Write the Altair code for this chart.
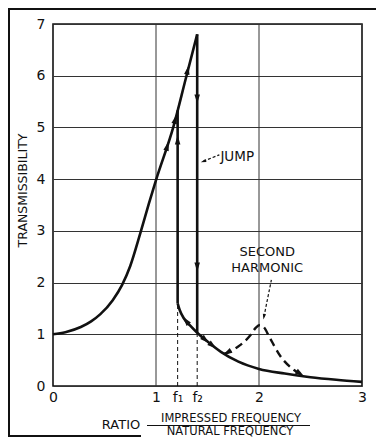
import altair as alt
import pandas as pd

# ---------------- data ----------------
F1 = 1.21   # lower jump frequency ratio
F2 = 1.40   # upper jump frequency ratio

# rising (upper) branch
up_x = [0.0, 0.12, 0.27, 0.37, 0.46, 0.58, 0.67, 0.75, 0.85, 0.93, 1.00, 1.17, 1.29, 1.40]
up_y = [1.00, 1.04, 1.14, 1.25, 1.39, 1.66, 1.95, 2.32, 2.97, 3.52, 3.98, 5.02, 5.95, 6.80]

# lower branch
low_x = [1.21, 1.23, 1.27, 1.33, 1.40, 1.50, 1.63, 1.80, 2.00, 2.25, 2.50, 2.75, 3.00]
low_y = [1.60, 1.47, 1.31, 1.17, 1.03, 0.86, 0.66, 0.47, 0.33, 0.24, 0.17, 0.12, 0.08]

# second harmonic (dashed)
harm_x = [1.66, 1.71, 1.81, 1.92, 1.97, 2.01, 2.05, 2.10, 2.21, 2.34, 2.44]
harm_y = [0.62, 0.66, 0.78, 0.99, 1.13, 1.18, 1.13, 0.95, 0.57, 0.31, 0.19]

# jumps (vertical solid lines)
jump_x = [F1, F2]
jump_y_from = [1.60, 1.03]
jump_y_to = [5.33, 6.80]

# arrowheads along the paths
arrow_x = [1.11, 1.187, 1.308, F1, F2, F2, 1.29, 1.48, 1.55, 1.69, 2.40]
arrow_y = [4.64, 5.16, 6.11, 4.76, 5.55, 2.30, 1.263, 0.89, 0.78, 0.645, 0.238]
arrow_dir = [16, 14, 12, 0, 180, 180, 321, 132, 129, 241, 123]

# axis ticks
x_tick_values = [0, 1, F1, F2, 2, 3]
x_tick_labels = ["0", "1", "f₁", "f₂", "2", "3"]
y_tick_values = [0, 1, 2, 3, 4, 5, 6, 7]
grid_x = [1, 2]

# annotations
jump_label = "JUMP"
jump_arrow_x = [1.615, 1.46]
jump_arrow_y = [4.47, 4.345]
harm_label = ["SECOND", "HARMONIC"]
harm_label_x = [2.08, 2.08]
harm_label_y = [2.60, 2.28]
harm_arrow_x = [2.12, 2.048]
harm_arrow_y = [2.05, 1.34]

FONT = "DejaVu Sans"
INK = "#111111"

xs = alt.Scale(domain=[0, 3], nice=False, zero=False)
ys = alt.Scale(domain=[0, 7], nice=False, zero=False)

label_expr = " : ".join(
    [f"datum.value == {v} ? '{l}'" for v, l in zip(x_tick_values, x_tick_labels)]
) + " : datum.label"

x_axis = alt.Axis(values=x_tick_values, labelExpr=label_expr, format=".0f",
                  grid=False, domain=False, ticks=False, labelFontSize=14,
                  labelPadding=4, labelColor=INK, labelFont=FONT, title=None,
                  labelFlush=False, labelOverlap=False)
y_axis = alt.Axis(values=y_tick_values, format="d", grid=True, gridColor="#333333",
                  gridWidth=1, domain=False, ticks=False, labelFontSize=14,
                  labelPadding=8, labelColor=INK, labelFont=FONT,
                  title="TRANSMISSIBILITY", titleFont=FONT, titleFontSize=12.5,
                  titleFontWeight="normal", titleColor=INK, titleAngle=270,
                  titleX=-31, titleY=166, titleAlign="center", titleBaseline="middle")

one = pd.DataFrame({"a": [0]})

# outer frame of the figure (top, left, and the visible part of the bottom edge)
frame_top = alt.Chart(one).mark_rule(color=INK, strokeWidth=2).encode(
    x=alt.value(-45), x2=alt.value(340), y=alt.value(-15))
frame_left = alt.Chart(one).mark_rule(color=INK, strokeWidth=2).encode(
    x=alt.value(-44), y=alt.value(-16), y2=alt.value(413))
frame_bottom = alt.Chart(one).mark_rule(color=INK, strokeWidth=2).encode(
    x=alt.value(-45), x2=alt.value(88), y=alt.value(412))

# vertical grid lines at 1 and 2
vgrid = alt.Chart(pd.DataFrame({"x": grid_x, "y0": [0, 0], "y1": [7, 7]})).mark_rule(
    color="#333333", strokeWidth=1).encode(
    x=alt.X("x:Q", scale=xs, axis=x_axis), y=alt.Y("y0:Q", scale=ys, axis=y_axis), y2="y1:Q")

# dashed drop lines at f1, f2
fdash = alt.Chart(pd.DataFrame({"x": jump_x, "y0": [0, 0], "y1": jump_y_from})).mark_rule(
    color=INK, strokeWidth=1, strokeDash=[4, 3]).encode(
    x=alt.X("x:Q", scale=xs), y=alt.Y("y0:Q", scale=ys), y2="y1:Q")

upper = alt.Chart(pd.DataFrame({"x": up_x, "y": up_y})).mark_line(
    color=INK, strokeWidth=2.6, interpolate="monotone").encode(
    x=alt.X("x:Q", scale=xs), y=alt.Y("y:Q", scale=ys))

lower = alt.Chart(pd.DataFrame({"x": low_x, "y": low_y})).mark_line(
    color=INK, strokeWidth=2.6, interpolate="monotone").encode(
    x=alt.X("x:Q", scale=xs), y=alt.Y("y:Q", scale=ys))

jumps = alt.Chart(pd.DataFrame({"x": jump_x, "y0": jump_y_from, "y1": jump_y_to})).mark_rule(
    color=INK, strokeWidth=2.6).encode(
    x=alt.X("x:Q", scale=xs), y=alt.Y("y0:Q", scale=ys), y2="y1:Q")

harm = alt.Chart(pd.DataFrame({"x": harm_x, "y": harm_y})).mark_line(
    color=INK, strokeWidth=2.4, strokeDash=[8, 5], interpolate="monotone").encode(
    x=alt.X("x:Q", scale=xs), y=alt.Y("y:Q", scale=ys))

ARROW = "M0,-1L0.6,1L-0.6,1Z"
arrows = alt.Chart(pd.DataFrame({"x": arrow_x, "y": arrow_y, "a": arrow_dir})).mark_point(
    shape=ARROW, filled=True, color=INK, size=85, opacity=1).encode(
    x=alt.X("x:Q", scale=xs), y=alt.Y("y:Q", scale=ys), angle=alt.Angle("a:Q", scale=None))

jump_text = alt.Chart(pd.DataFrame({"x": [jump_arrow_x[0] + 0.01], "y": [jump_arrow_y[0] - 0.05],
                                    "t": [jump_label]})).mark_text(
    align="left", baseline="middle", font=FONT, fontSize=13.5, color=INK).encode(
    x=alt.X("x:Q", scale=xs), y=alt.Y("y:Q", scale=ys), text="t:N")

jump_arrow = alt.Chart(pd.DataFrame({"x": jump_arrow_x, "y": jump_arrow_y})).mark_line(
    color=INK, strokeWidth=1.2, strokeDash=[3, 2]).encode(
    x=alt.X("x:Q", scale=xs), y=alt.Y("y:Q", scale=ys))
jump_head = alt.Chart(pd.DataFrame({"x": [jump_arrow_x[1]], "y": [jump_arrow_y[1]], "a": [252]})).mark_point(
    shape=ARROW, filled=True, color=INK, size=30, opacity=1).encode(
    x=alt.X("x:Q", scale=xs), y=alt.Y("y:Q", scale=ys), angle=alt.Angle("a:Q", scale=None))

harm_text = alt.Chart(pd.DataFrame({"x": harm_label_x, "y": harm_label_y, "t": harm_label})).mark_text(
    align="center", baseline="middle", font=FONT, fontSize=13, color=INK).encode(
    x=alt.X("x:Q", scale=xs), y=alt.Y("y:Q", scale=ys), text="t:N")

harm_arrow = alt.Chart(pd.DataFrame({"x": harm_arrow_x, "y": harm_arrow_y})).mark_line(
    color=INK, strokeWidth=1.2, strokeDash=[3, 2]).encode(
    x=alt.X("x:Q", scale=xs), y=alt.Y("y:Q", scale=ys))
harm_head = alt.Chart(pd.DataFrame({"x": [harm_arrow_x[1]], "y": [harm_arrow_y[1]], "a": [191]})).mark_point(
    shape=ARROW, filled=True, color=INK, size=30, opacity=1).encode(
    x=alt.X("x:Q", scale=xs), y=alt.Y("y:Q", scale=ys), angle=alt.Angle("a:Q", scale=None))

# x-axis title: RATIO  IMPRESSED FREQUENCY / NATURAL FREQUENCY
ratio = alt.Chart(one).mark_text(font=FONT, fontSize=13, color=INK, align="center",
                                 baseline="middle", text="RATIO").encode(
    x=alt.value(68), y=alt.value(400.5))
numer = alt.Chart(one).mark_text(font=FONT, fontSize=11.5, color=INK, align="center",
                                 baseline="middle", text="IMPRESSED FREQUENCY").encode(
    x=alt.value(178), y=alt.value(394.5))
bar = alt.Chart(one).mark_rule(color=INK, strokeWidth=1.2).encode(
    x=alt.value(94), x2=alt.value(257), y=alt.value(401.5))
denom = alt.Chart(one).mark_text(font=FONT, fontSize=11.5, color=INK, align="center",
                                 baseline="middle", text="NATURAL FREQUENCY").encode(
    x=alt.value(177), y=alt.value(407.5))

chart = alt.layer(
    frame_top, frame_left, frame_bottom, vgrid, fdash, upper, lower, jumps, harm, arrows,
    jump_arrow, jump_head, jump_text, harm_arrow, harm_head, harm_text,
    ratio, numer, bar, denom
).properties(
    width=309, height=362,
    autosize=alt.AutoSizeParams(type="none"),
    padding={"left": 45, "top": 16, "right": 14, "bottom": 51},
    background="white",
).configure_view(stroke=INK, strokeWidth=1.6)

chart.save("out.html", embed_options={"renderer": "svg", "actions": False})
